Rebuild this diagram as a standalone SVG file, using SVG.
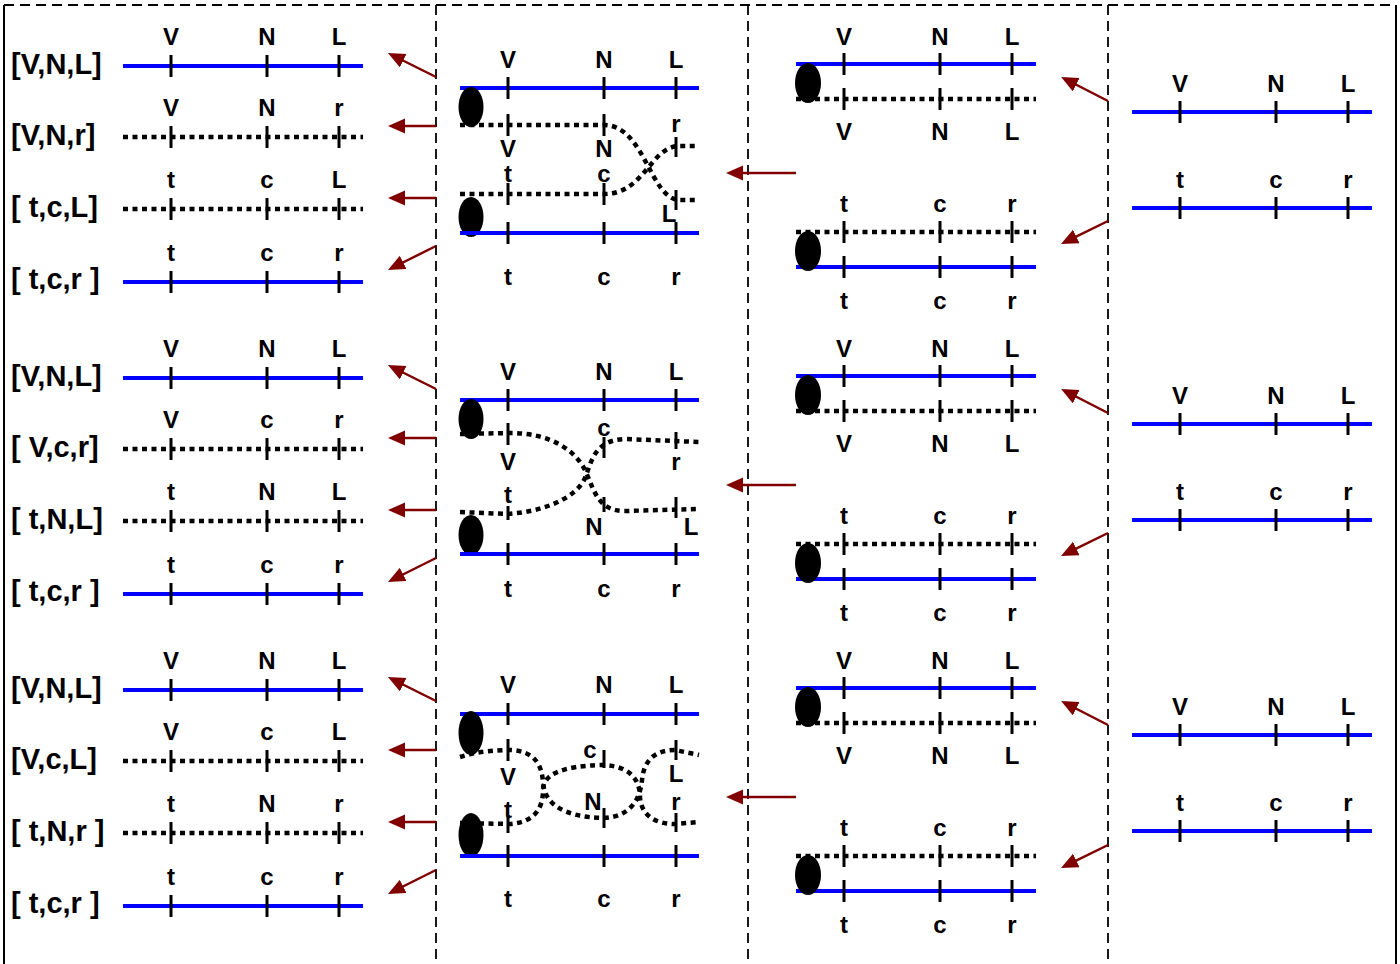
<svg xmlns="http://www.w3.org/2000/svg" width="1400" height="964" viewBox="0 0 1400 964">
<style>
.frame{stroke:#000;stroke-width:2;fill:none}
.dash{stroke:#000;stroke-width:1.8;stroke-dasharray:10 6;fill:none}
.blue{stroke:#0000ff;stroke-width:4;fill:none}
.dot{stroke:#000;stroke-width:4.5;stroke-dasharray:5 4.5;fill:none}
.tk{stroke:#000;stroke-width:3;fill:none}
text{font-family:"Liberation Sans",Arial,sans-serif;font-weight:bold;fill:#000}
.t{font-size:24px;text-anchor:middle}
.b{font-size:29px}
.arr{stroke:#800000;stroke-width:2.5;fill:none;marker-end:url(#ah)}
.el{fill:#000}
</style>
<defs>
<marker id="ah" markerUnits="userSpaceOnUse" markerWidth="18" markerHeight="16" refX="7" refY="7.5" orient="auto">
<path d="M0,0 L17,7.5 L0,15 z" fill="#800000"/>
</marker>
</defs>
<rect width="1400" height="964" fill="#fff"/>

<g id="frame">
<line class="frame" x1="4" y1="5" x2="4" y2="964"/>
<line class="frame" x1="1396" y1="5" x2="1396" y2="964"/>
<line class="dash" x1="4" y1="5" x2="1396" y2="5"/>
<line class="dash" x1="436" y1="5" x2="436" y2="964"/>
<line class="dash" x1="748" y1="5" x2="748" y2="964"/>
<line class="dash" x1="1108" y1="5" x2="1108" y2="964"/>
</g>

<!-- LEFT COLUMN -->
<g id="left-block-1">
<text class="b" x="11" y="74">[V,N,L]</text>
<path class="blue" d="M123,66H363"/>
<path class="tk" d="M171,55v22M267,55v22M339,55v22"/>
<text class="t" x="171" y="45">V</text><text class="t" x="267" y="45">N</text><text class="t" x="339" y="45">L</text>
<text class="b" x="11" y="145">[V,N,r]</text>
<path class="dot" d="M123,137H363"/>
<path class="tk" d="M171,126v22M267,126v22M339,126v22"/>
<text class="t" x="171" y="116">V</text><text class="t" x="267" y="116">N</text><text class="t" x="339" y="116">r</text>
<text class="b" x="11" y="217">[ t,c,L]</text>
<path class="dot" d="M123,209H363"/>
<path class="tk" d="M171,198v22M267,198v22M339,198v22"/>
<text class="t" x="171" y="188">t</text><text class="t" x="267" y="188">c</text><text class="t" x="339" y="188">L</text>
<text class="b" x="11" y="289">[ t,c,r ]</text>
<path class="blue" d="M123,282H363"/>
<path class="tk" d="M171,271v22M267,271v22M339,271v22"/>
<text class="t" x="171" y="261">t</text><text class="t" x="267" y="261">c</text><text class="t" x="339" y="261">r</text>
</g>

<g id="left-block-2" transform="translate(0,312)">
<text class="b" x="11" y="74">[V,N,L]</text>
<path class="blue" d="M123,66H363"/>
<path class="tk" d="M171,55v22M267,55v22M339,55v22"/>
<text class="t" x="171" y="45">V</text><text class="t" x="267" y="45">N</text><text class="t" x="339" y="45">L</text>
<text class="b" x="11" y="145">[ V,c,r]</text>
<path class="dot" d="M123,137H363"/>
<path class="tk" d="M171,126v22M267,126v22M339,126v22"/>
<text class="t" x="171" y="116">V</text><text class="t" x="267" y="116">c</text><text class="t" x="339" y="116">r</text>
<text class="b" x="11" y="217">[ t,N,L]</text>
<path class="dot" d="M123,209H363"/>
<path class="tk" d="M171,198v22M267,198v22M339,198v22"/>
<text class="t" x="171" y="188">t</text><text class="t" x="267" y="188">N</text><text class="t" x="339" y="188">L</text>
<text class="b" x="11" y="289">[ t,c,r ]</text>
<path class="blue" d="M123,282H363"/>
<path class="tk" d="M171,271v22M267,271v22M339,271v22"/>
<text class="t" x="171" y="261">t</text><text class="t" x="267" y="261">c</text><text class="t" x="339" y="261">r</text>
</g>

<g id="left-block-3" transform="translate(0,624)">
<text class="b" x="11" y="74">[V,N,L]</text>
<path class="blue" d="M123,66H363"/>
<path class="tk" d="M171,55v22M267,55v22M339,55v22"/>
<text class="t" x="171" y="45">V</text><text class="t" x="267" y="45">N</text><text class="t" x="339" y="45">L</text>
<text class="b" x="11" y="145">[V,c,L]</text>
<path class="dot" d="M123,137H363"/>
<path class="tk" d="M171,126v22M267,126v22M339,126v22"/>
<text class="t" x="171" y="116">V</text><text class="t" x="267" y="116">c</text><text class="t" x="339" y="116">L</text>
<text class="b" x="11" y="217">[ t,N,r ]</text>
<path class="dot" d="M123,209H363"/>
<path class="tk" d="M171,198v22M267,198v22M339,198v22"/>
<text class="t" x="171" y="188">t</text><text class="t" x="267" y="188">N</text><text class="t" x="339" y="188">r</text>
<text class="b" x="11" y="289">[ t,c,r ]</text>
<path class="blue" d="M123,282H363"/>
<path class="tk" d="M171,271v22M267,271v22M339,271v22"/>
<text class="t" x="171" y="261">t</text><text class="t" x="267" y="261">c</text><text class="t" x="339" y="261">r</text>
</g>

<!-- MIDDLE COLUMN -->
<g id="mid-block-1">
<path class="blue" d="M460,88H699"/>
<path class="tk" d="M508,77v22M604,77v22M676,77v22"/>
<text class="t" x="508" y="68">V</text><text class="t" x="604" y="68">N</text><text class="t" x="676" y="68">L</text>
<path class="dot" d="M460,125H604C645,125 650,200 680,200H699"/>
<path class="dot" d="M460,194H604C645,194 650,146 680,146H699"/>
<ellipse class="el" cx="471" cy="107" rx="12.5" ry="20"/>
<ellipse class="el" cx="471" cy="217" rx="12.5" ry="20"/>
<path class="tk" d="M508,114v22M604,114v22M508,183v22M604,183v22M676,137v20M676,190v20"/>
<text class="t" x="676" y="132">r</text>
<text class="t" x="508" y="157">V</text><text class="t" x="604" y="157">N</text>
<text class="t" x="508" y="182">t</text><text class="t" x="604" y="182">c</text>
<text class="t" x="669" y="222">L</text>
<path class="blue" d="M460,233H699"/>
<path class="tk" d="M508,222v22M604,222v22M676,222v22"/>
<text class="t" x="508" y="285">t</text><text class="t" x="604" y="285">c</text><text class="t" x="676" y="285">r</text>
</g>

<g id="mid-block-2">
<path class="blue" d="M460,400H699"/>
<path class="tk" d="M508,389v22M604,389v22M676,389v22"/>
<text class="t" x="508" y="380">V</text><text class="t" x="604" y="380">N</text><text class="t" x="676" y="380">L</text>
<path class="dot" d="M460,434L510,433C550,433 575,450 585,470C595,492 598,511 625,511L699,509"/>
<path class="dot" d="M460,512L507,514C540,512 575,500 585,478C592,460 595,440 625,439L699,442"/>
<ellipse class="el" cx="471" cy="419" rx="12.5" ry="20"/>
<ellipse class="el" cx="471" cy="535" rx="12.5" ry="20"/>
<path class="tk" d="M508,423v22M508,506v14M604,437v21M676,432v17M604,497v15M676,497v21"/>
<text class="t" x="508" y="470">V</text>
<text class="t" x="508" y="503">t</text>
<text class="t" x="604" y="436">c</text>
<text class="t" x="676" y="470">r</text>
<text class="t" x="594" y="535">N</text>
<text class="t" x="691" y="535">L</text>
<path class="blue" d="M460,554H699"/>
<path class="tk" d="M508,543v22M604,543v22M676,543v22"/>
<text class="t" x="508" y="597">t</text><text class="t" x="604" y="597">c</text><text class="t" x="676" y="597">r</text>
</g>

<g id="mid-block-3">
<path class="blue" d="M460,714H699"/>
<path class="tk" d="M508,703v22M604,703v22M676,703v22"/>
<text class="t" x="508" y="693">V</text><text class="t" x="604" y="693">N</text><text class="t" x="676" y="693">L</text>
<path class="dot" d="M460,757C475,752 495,750 510,750C535,751 542,765 543,783C545,805 565,817 603,818C630,817 640,800 642,780C644,760 655,750 675,750L699,755"/>
<path class="dot" d="M460,823L510,824C535,822 543,808 543,790C543,775 560,766 603,765C630,766 640,780 640,797C641,815 655,824 675,824L699,822"/>
<ellipse class="el" cx="471" cy="733" rx="12.5" ry="22"/>
<ellipse class="el" cx="471" cy="835" rx="12.5" ry="22"/>
<path class="tk" d="M508,739v22M508,815v18M604,750v18M604,808v20M676,740v20M676,813v19"/>
<text class="t" x="508" y="785">V</text>
<text class="t" x="508" y="818">t</text>
<text class="t" x="590" y="758">c</text>
<text class="t" x="593" y="810">N</text>
<text class="t" x="676" y="782">L</text>
<text class="t" x="676" y="810">r</text>
<path class="blue" d="M460,856H699"/>
<path class="tk" d="M508,845v22M604,845v22M676,845v22"/>
<text class="t" x="508" y="907">t</text><text class="t" x="604" y="907">c</text><text class="t" x="676" y="907">r</text>
</g>

<!-- RIGHT-MIDDLE COLUMN -->
<g id="pair-block-1">
<path class="blue" d="M796,64H1036"/>
<path class="dot" d="M796,99H1036"/>
<ellipse class="el" cx="808" cy="83" rx="13" ry="20"/>
<path class="tk" d="M844,53v22M940,53v22M1012,53v22M844,88v22M940,88v22M1012,88v22"/>
<text class="t" x="844" y="45">V</text><text class="t" x="940" y="45">N</text><text class="t" x="1012" y="45">L</text>
<text class="t" x="844" y="140">V</text><text class="t" x="940" y="140">N</text><text class="t" x="1012" y="140">L</text>
<path class="dot" d="M796,232H1036"/>
<path class="blue" d="M796,267H1036"/>
<ellipse class="el" cx="808" cy="251" rx="13" ry="20"/>
<path class="tk" d="M844,221v22M940,221v22M1012,221v22M844,256v22M940,256v22M1012,256v22"/>
<text class="t" x="844" y="212">t</text><text class="t" x="940" y="212">c</text><text class="t" x="1012" y="212">r</text>
<text class="t" x="844" y="309">t</text><text class="t" x="940" y="309">c</text><text class="t" x="1012" y="309">r</text>
</g>
<g id="pair-block-2" transform="translate(0,312)">
<path class="blue" d="M796,64H1036"/>
<path class="dot" d="M796,99H1036"/>
<ellipse class="el" cx="808" cy="83" rx="13" ry="20"/>
<path class="tk" d="M844,53v22M940,53v22M1012,53v22M844,88v22M940,88v22M1012,88v22"/>
<text class="t" x="844" y="45">V</text><text class="t" x="940" y="45">N</text><text class="t" x="1012" y="45">L</text>
<text class="t" x="844" y="140">V</text><text class="t" x="940" y="140">N</text><text class="t" x="1012" y="140">L</text>
<path class="dot" d="M796,232H1036"/>
<path class="blue" d="M796,267H1036"/>
<ellipse class="el" cx="808" cy="251" rx="13" ry="20"/>
<path class="tk" d="M844,221v22M940,221v22M1012,221v22M844,256v22M940,256v22M1012,256v22"/>
<text class="t" x="844" y="212">t</text><text class="t" x="940" y="212">c</text><text class="t" x="1012" y="212">r</text>
<text class="t" x="844" y="309">t</text><text class="t" x="940" y="309">c</text><text class="t" x="1012" y="309">r</text>
</g>
<g id="pair-block-3" transform="translate(0,624)">
<path class="blue" d="M796,64H1036"/>
<path class="dot" d="M796,99H1036"/>
<ellipse class="el" cx="808" cy="83" rx="13" ry="20"/>
<path class="tk" d="M844,53v22M940,53v22M1012,53v22M844,88v22M940,88v22M1012,88v22"/>
<text class="t" x="844" y="45">V</text><text class="t" x="940" y="45">N</text><text class="t" x="1012" y="45">L</text>
<text class="t" x="844" y="140">V</text><text class="t" x="940" y="140">N</text><text class="t" x="1012" y="140">L</text>
<path class="dot" d="M796,232H1036"/>
<path class="blue" d="M796,267H1036"/>
<ellipse class="el" cx="808" cy="251" rx="13" ry="20"/>
<path class="tk" d="M844,221v22M940,221v22M1012,221v22M844,256v22M940,256v22M1012,256v22"/>
<text class="t" x="844" y="212">t</text><text class="t" x="940" y="212">c</text><text class="t" x="1012" y="212">r</text>
<text class="t" x="844" y="309">t</text><text class="t" x="940" y="309">c</text><text class="t" x="1012" y="309">r</text>
</g>

<!-- FAR RIGHT COLUMN -->
<g id="source-block-1">
<path class="blue" d="M1132,112H1372M1132,208H1372"/>
<path class="tk" d="M1180,101v22M1276,101v22M1348,101v22M1180,197v22M1276,197v22M1348,197v22"/>
<text class="t" x="1180" y="92">V</text><text class="t" x="1276" y="92">N</text><text class="t" x="1348" y="92">L</text>
<text class="t" x="1180" y="188">t</text><text class="t" x="1276" y="188">c</text><text class="t" x="1348" y="188">r</text>
</g>
<g id="source-block-2" transform="translate(0,312)">
<path class="blue" d="M1132,112H1372M1132,208H1372"/>
<path class="tk" d="M1180,101v22M1276,101v22M1348,101v22M1180,197v22M1276,197v22M1348,197v22"/>
<text class="t" x="1180" y="92">V</text><text class="t" x="1276" y="92">N</text><text class="t" x="1348" y="92">L</text>
<text class="t" x="1180" y="188">t</text><text class="t" x="1276" y="188">c</text><text class="t" x="1348" y="188">r</text>
</g>
<g id="source-block-3" transform="translate(0,623)">
<path class="blue" d="M1132,112H1372M1132,208H1372"/>
<path class="tk" d="M1180,101v22M1276,101v22M1348,101v22M1180,197v22M1276,197v22M1348,197v22"/>
<text class="t" x="1180" y="92">V</text><text class="t" x="1276" y="92">N</text><text class="t" x="1348" y="92">L</text>
<text class="t" x="1180" y="188">t</text><text class="t" x="1276" y="188">c</text><text class="t" x="1348" y="188">r</text>
</g>

<!-- CONNECTORS -->
<g id="connectors">
<g id="conn-1">
<line class="arr" x1="436" y1="77" x2="396.9" y2="57.5"/>
<line class="arr" x1="436" y1="126" x2="398" y2="126"/>
<line class="arr" x1="436" y1="198" x2="398" y2="198"/>
<line class="arr" x1="436" y1="246" x2="396.9" y2="265.5"/>
<line class="arr" x1="796" y1="173" x2="736" y2="173"/>
<line class="arr" x1="1108" y1="101" x2="1070" y2="81.5"/>
<line class="arr" x1="1108" y1="221" x2="1070" y2="239.6"/>
</g>
<g id="conn-2" transform="translate(0,312)">
<line class="arr" x1="436" y1="77" x2="396.9" y2="57.5"/>
<line class="arr" x1="436" y1="126" x2="398" y2="126"/>
<line class="arr" x1="436" y1="198" x2="398" y2="198"/>
<line class="arr" x1="436" y1="246" x2="396.9" y2="265.5"/>
<line class="arr" x1="796" y1="173" x2="736" y2="173"/>
<line class="arr" x1="1108" y1="101" x2="1070" y2="81.5"/>
<line class="arr" x1="1108" y1="221" x2="1070" y2="239.6"/>
</g>
<g id="conn-3" transform="translate(0,624)">
<line class="arr" x1="436" y1="77" x2="396.9" y2="57.5"/>
<line class="arr" x1="436" y1="126" x2="398" y2="126"/>
<line class="arr" x1="436" y1="198" x2="398" y2="198"/>
<line class="arr" x1="436" y1="246" x2="396.9" y2="265.5"/>
<line class="arr" x1="796" y1="173" x2="736" y2="173"/>
<line class="arr" x1="1108" y1="101" x2="1070" y2="81.5"/>
<line class="arr" x1="1108" y1="221" x2="1070" y2="239.6"/>
</g>
</g>
</svg>
